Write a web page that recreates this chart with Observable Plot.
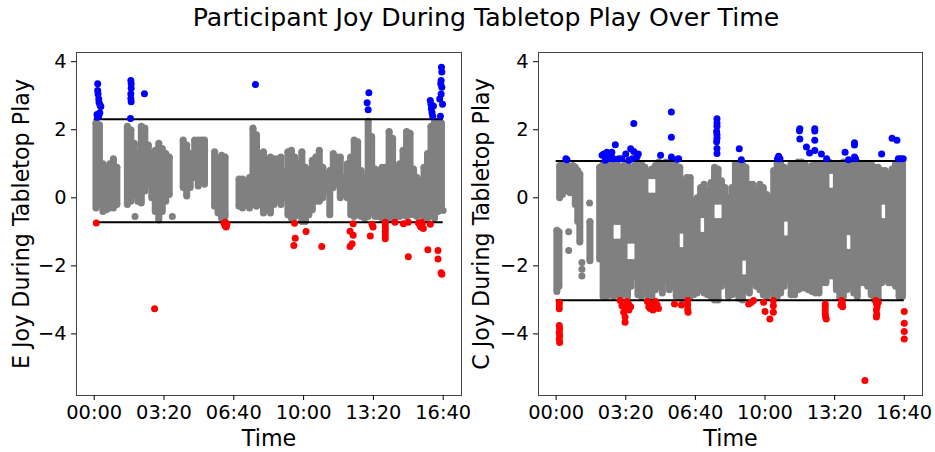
<!DOCTYPE html>
<html><head><meta charset="utf-8">
<script src="https://cdn.jsdelivr.net/npm/d3@7"></script>
<script src="https://cdn.jsdelivr.net/npm/@observablehq/plot@0.6"></script>
<style>
body{margin:0;background:#fff;}
#wrap{position:relative;width:935px;height:452px;font-family:"DejaVu Sans",sans-serif;overflow:hidden;}
#title{position:absolute;left:486px;top:0;transform:translateX(-50%);white-space:nowrap;font-size:25.2px;line-height:36px;color:#000;}
#left{position:absolute;left:0;top:40px;}
#right{position:absolute;left:467px;top:40px;}
svg{overflow:visible;}
</style></head><body>
<div id="wrap"><div id="title">Participant Joy During Tabletop Play Over Time</div><div id="left"></div><div id="right"></div></div>
<script>
// ---- axes / ticks ----
const xTicks = [0, 200, 400, 600, 800, 1000];
const yTicks = [-4, -2, 0, 2, 4];
const xDomain = [-50.7, 1052.4];
const yDomain = [-5.81, 4.27];

// ---- thresholds ----
const eThresholds = [2.31, -0.72];
const cThresholds = [1.08, -3.01];

// ---- E panel: gray streaks [time s, low, high] ----
const eGray = [
[5,-0.3,2.2],[15,-0.2,2.15],[25,-0.4,1.0],[35,-0.35,0.9],[45,-0.3,1.0],[55,-0.3,1.15],[65,-0.2,0.9],
[95,-0.2,2.1],[105,-0.1,2.0],[115,0.1,1.6],[125,-0.1,1.3],[135,-0.15,2.1],[145,0.2,2.05],[155,0.4,1.55],
[165,0.0,1.3],[175,-0.4,1.4],[185,-0.65,1.6],[195,-0.4,1.45],[205,-0.1,1.3],[215,0.1,1.2],
[255,0.3,1.7],[265,0.05,1.55],[275,0.3,1.3],[288,0.6,1.7],[298,0.35,1.7],[308,0.5,1.7],[316,0.4,1.7],
[345,-0.25,1.35],[355,-0.45,1.1],[365,-0.6,1.25],[375,-0.55,1.2],
[415,-0.25,0.55],[425,-0.3,0.55],[435,-0.2,0.5],[445,-0.3,0.6],[455,-0.15,2.05],[465,-0.25,1.85],
[475,-0.2,1.3],[485,-0.45,1.35],[495,0.0,1.1],[505,-0.45,1.2],[515,-0.2,1.15],[525,-0.05,1.15],
[535,-0.2,1.2],[545,0.0,0.75],[555,-0.5,1.35],[565,-0.6,1.4],[575,-0.55,1.2],[585,-0.5,1.0],
[595,-0.7,1.35],[605,-0.7,0.9],[615,-0.5,0.8],[625,-0.35,1.1],[635,-0.1,1.2],[645,-0.1,1.4],
[655,0.0,0.9],[665,0.2,0.7],[675,-0.5,0.8],[685,0.3,1.3],[695,0.4,1.2],[705,0.0,1.2],[715,0.1,0.6],
[725,0.0,1.0],[735,-0.5,1.2],[745,-0.55,1.7],[755,-0.5,1.65],[765,-0.55,0.8],[775,-0.6,0.6],
[785,-0.55,2.25],[795,-0.4,1.8],[805,-0.55,0.85],[815,-0.55,0.8],[825,-0.6,0.9],[835,-0.6,0.9],
[845,-0.6,1.95],[855,-0.6,1.75],[865,-0.55,0.85],[875,-0.55,1.0],[885,-0.5,1.4],[895,-0.55,1.95],
[905,-0.5,1.9],[915,-0.5,0.85],[925,-0.55,0.6],[935,-0.5,0.5],[945,-0.55,0.9],[955,-0.6,1.3],
[965,-0.5,2.1],[975,-0.6,2.25],[985,-0.4,2.2],[995,-0.3,2.2]
];
const eGrayDots = [[117,-0.55],[224,-0.55],[1000,-0.37]];
const eBlue = [
[10,3.35],[10,3.15],[11,3.05],[13,2.9],[14,2.8],[17,2.72],[19,2.68],[8,2.45],[10,2.37],[13,2.4],[16,2.5],
[105,3.45],[106,3.35],[106,3.22],[105,3.05],[105,2.92],[106,2.82],[104,2.33],
[144,3.06],[462,3.33],[787,3.09],[782,2.79],[785,2.59],
[963,2.86],[965,2.75],[966,2.62],[968,2.5],[970,2.4],[972,2.7],
[995,3.84],[996,3.7],[994,3.45],[993,3.35],[996,3.25],[994,3.05],[998,2.75],[992,2.4],[990,2.9]
];
const eRed = [
[6,-0.74],[173,-3.26],
[372,-0.75],[375,-0.82],[378,-0.86],[380,-0.78],[376,-0.72],
[574,-0.75],[576,-1.19],[572,-1.4],[607,-0.99],[652,-1.43],
[742,-0.76],[733,-0.98],[742,-1.1],[739,-1.35],[733,-1.43],
[796,-0.78],[799,-0.86],[791,-1.12],
[834,-0.72],[834,-0.8],[834,-0.9],[834,-1.0],[834,-1.1],[834,-1.2],
[862,-0.72],[886,-0.76],[900,-0.72],[900,-1.73],
[929,-0.74],[933,-0.8],[936,-0.86],[940,-0.76],[943,-0.9],[938,-0.72],
[956,-1.53],[963,-0.78],[985,-1.55],[985,-1.8],[994,-2.2],[996,-2.25]
];

// ---- C panel: gray streaks [time s, low, high] (a time may hold two streaks) ----
const cGray = [
[2,-2.75,-0.95],[8,-2.6,-1.0],[10,0.0,0.95],[18,0.1,1.0],[25,0.3,0.95],[32,0.2,0.95],[40,0.15,0.9],
[48,0.3,0.95],[55,-0.2,0.9],[62,-0.7,0.8],[68,-1.3,0.7],[97,-1.85,-0.7],
[125,-1.8,0.9],[135,-2.9,1.0],[145,-2.9,1.0],[155,-2.85,0.95],
[165,-2.9,-1.3],[165,-0.7,1.0],[175,-2.85,-1.3],[175,-0.7,1.0],[185,-2.9,-1.3],[185,-0.7,0.9],
[195,-2.8,0.95],
[205,-2.9,-1.9],[205,-1.25,1.0],[215,-2.6,-1.9],[215,-1.25,0.85],[225,-2.3,-1.9],[225,-1.25,0.95],
[235,-2.85,1.0],[245,-2.9,1.0],[255,-2.5,0.9],
[265,-2.95,0.05],[265,0.65,0.75],[275,-3.0,0.05],[275,0.65,0.85],[285,-2.7,0.05],[285,0.65,0.95],
[295,-2.6,1.05],[305,-2.8,1.0],[315,-2.4,1.05],[325,-2.7,1.05],[335,-2.6,1.0],[345,-2.9,0.95],
[355,-2.95,-1.55],[355,-0.95,0.9],[365,-3.0,-1.55],[365,-0.95,0.5],
[375,-3.0,0.6],[385,-2.9,0.6],[395,-2.85,-0.1],[405,-2.8,0.0],
[415,-2.7,-1.1],[415,-0.5,0.3],[425,-2.8,-1.1],[425,-0.5,0.4],
[435,-2.85,0.2],[445,-2.9,0.45],
[455,-3.0,-0.7],[455,-0.1,0.9],[465,-3.0,-0.7],[465,-0.1,0.85],[475,-2.6,-0.7],[475,-0.1,0.5],
[485,-2.5,0.3],[495,-2.9,0.0],[505,-2.85,0.3],[515,-2.8,1.0],[525,-2.95,1.0],
[535,-3.0,-2.35],[535,-1.75,1.0],[545,-2.7,-2.35],[545,-1.75,0.9],
[555,-2.8,0.4],[565,-2.5,0.4],[575,-2.6,0.2],[585,-2.7,0.4],[595,-2.85,0.3],
[605,-2.9,0.1],[615,-2.7,0.0],[625,-2.9,0.8],[635,-2.9,1.0],[645,-2.8,1.0],
[655,-2.6,-1.2],[655,-0.6,0.9],[665,-2.4,-1.2],[665,-0.6,0.85],
[675,-2.85,1.0],[685,-2.85,1.0],[695,-2.7,1.05],[705,-2.65,1.05],[715,-2.65,1.0],
[725,-2.7,0.8],[735,-2.75,0.95],[745,-2.8,1.0],[755,-2.8,1.0],[765,-2.5,1.0],[775,-2.5,1.05],
[785,-2.3,0.2],[785,0.8,1.05],[795,-2.3,0.2],[795,0.8,1.0],
[805,-2.7,1.0],[815,-2.95,1.0],[825,-2.9,1.05],
[835,-2.7,-1.6],[835,-1.0,1.05],[845,-2.6,-1.6],[845,-1.0,1.05],
[855,-2.8,1.05],[865,-2.9,1.05],[875,-2.5,1.0],[885,-2.5,0.95],[895,-2.6,1.0],
[905,-2.85,1.0],[915,-3.0,0.9],[925,-3.0,0.9],
[935,-2.5,-0.7],[935,-0.1,0.8],[945,-2.4,-0.7],[945,-0.1,0.8],
[955,-2.5,0.7],[965,-2.5,0.85],[975,-2.6,1.0],[985,-2.9,1.0],[995,-2.9,1.0]
];
const cGrayDots = [[36,-1.0],[36,-1.55],[96,-0.15],[74,-1.9],[74,-2.1],[74,-2.3]];
const cBlue = [
[28,1.15],[31,1.12],
[137,1.29],[146,1.34],[156,1.25],[160,1.34],[170,1.56],[165,1.15],[180,1.15],[189,1.15],[141,1.1],[151,1.15],[132,1.25],
[200,1.29],[214,1.44],[223,1.36],[219,1.15],[236,1.29],[223,2.18],[209,1.1],[232,1.2],
[300,1.25],[331,2.52],[331,1.78],[331,1.2],[352,1.15],[348,1.13],
[462,2.32],[462,2.2],[462,2.1],[461,1.95],[462,1.85],[462,1.75],[461,1.65],[462,1.45],[462,1.3],
[526,1.44],[532,1.12],[636,1.15],[639,1.22],[643,1.15],
[700,2.03],[699,1.97],[700,1.73],[719,1.49],[728,1.32],[743,2.03],[743,1.96],[743,1.69],[743,1.39],[762,1.29],[777,1.15],
[830,1.34],[840,1.12],[857,1.62],[857,1.55],[857,1.2],[860,1.15],
[935,1.29],[965,1.75],[979,1.69],[983,1.15],[990,1.15],[997,1.15]
];
const cRed = [
[9,-3.07],[9,-3.15],[9,-3.26],[9,-3.75],[10,-3.85],[9,-3.95],[10,-4.05],[9,-4.15],[10,-4.25],
[184,-3.02],[189,-3.17],[198,-3.26],[194,-3.36],[198,-3.5],[198,-3.66],[208,-3.12],[203,-3.05],[208,-3.25],[214,-3.2],[209,-3.3],
[262,-3.05],[266,-3.2],[270,-3.25],[275,-3.1],[281,-3.2],[286,-3.05],[290,-3.15],[294,-3.25],[278,-3.3],
[340,-3.12],[360,-3.15],[378,-3.02],[378,-3.15],[378,-3.28],[379,-3.36],
[553,-3.12],[560,-3.08],[567,-3.02],
[596,-3.07],[600,-3.34],[614,-3.56],[624,-3.02],[624,-3.17],[624,-3.36],
[773,-3.12],[773,-3.2],[773,-3.3],[773,-3.4],[774,-3.5],[776,-3.56],
[820,-3.02],[822,-3.1],[823,-3.2],[818,-3.15],
[887,-5.37],
[918,-3.02],[920,-3.1],[922,-3.2],[920,-3.3],[921,-3.42],[920,-3.5],[925,-3.08],
[1000,-3.34],[1000,-3.69],[1000,-3.93],[1000,-4.15]
];

const fmt = t => String(Math.floor(t / 60)).padStart(2, "0") + ":" + String(t % 60).padStart(2, "0");

// both end points of every streak, drawn as round dots
const ends = gray => gray.flatMap(d => [[d[0], d[1]], [d[0], d[2]]]);

function panel(gray, grayDots, blue, red, thr, label, o) {
  return Plot.plot({
    width: o.width, height: 412,
    marginLeft: o.ml, marginRight: o.mr, marginTop: 12, marginBottom: 57,
    style: {fontFamily: "DejaVu Sans", fontSize: "19.4px", overflow: "visible", background: "transparent", color: "black"},
    x: {domain: xDomain},
    y: {domain: yDomain},
    marks: [
      Plot.ruleX(gray, {x: d => d[0], y1: d => d[1], y2: d => d[2], stroke: "#808080", strokeWidth: 7}),
      Plot.dot(ends(gray), {x: d => d[0], y: d => d[1], r: 3.5, fill: "#808080"}),
      Plot.dot(grayDots, {x: d => d[0], y: d => d[1], r: 3.5, fill: "#808080"}),
      Plot.ruleY(thr, {x1: 0, x2: 1000, stroke: "black", strokeWidth: 2}),
      Plot.dot(blue, {x: d => d[0], y: d => d[1], r: 3.5, fill: "#0000ff"}),
      Plot.dot(red, {x: d => d[0], y: d => d[1], r: 3.5, fill: "#ff0000"}),
      Plot.frame({stroke: "#444", strokeWidth: 1}),
      Plot.axisX({ticks: xTicks, tickFormat: fmt, tickSize: 5, tickPadding: 5, label: null, fontSize: 19.4}),
      Plot.axisY({ticks: yTicks, tickSize: 5, tickPadding: 5, label: null, fontSize: 19.4}),
      Plot.text(["Time"], {frameAnchor: "bottom", lineAnchor: "bottom", dy: 50, fontSize: 22.2}),
      Plot.text([label], {frameAnchor: "left", rotate: -90, dx: o.ldx, fontSize: 22.2, textAnchor: "middle", lineAnchor: "middle"})
    ]
  });
}

document.getElementById("left").append(panel(eGray, eGrayDots, eBlue, eRed, eThresholds, "E Joy During Tabletop Play", {width: 467, ml: 76, mr: 6, ldx: -55}));
document.getElementById("right").append(panel(cGray, cGrayDots, cBlue, cRed, cThresholds, "C Joy During Tabletop Play", {width: 468, ml: 71, mr: 13, ldx: -56.5}));
</script>
</body></html>
